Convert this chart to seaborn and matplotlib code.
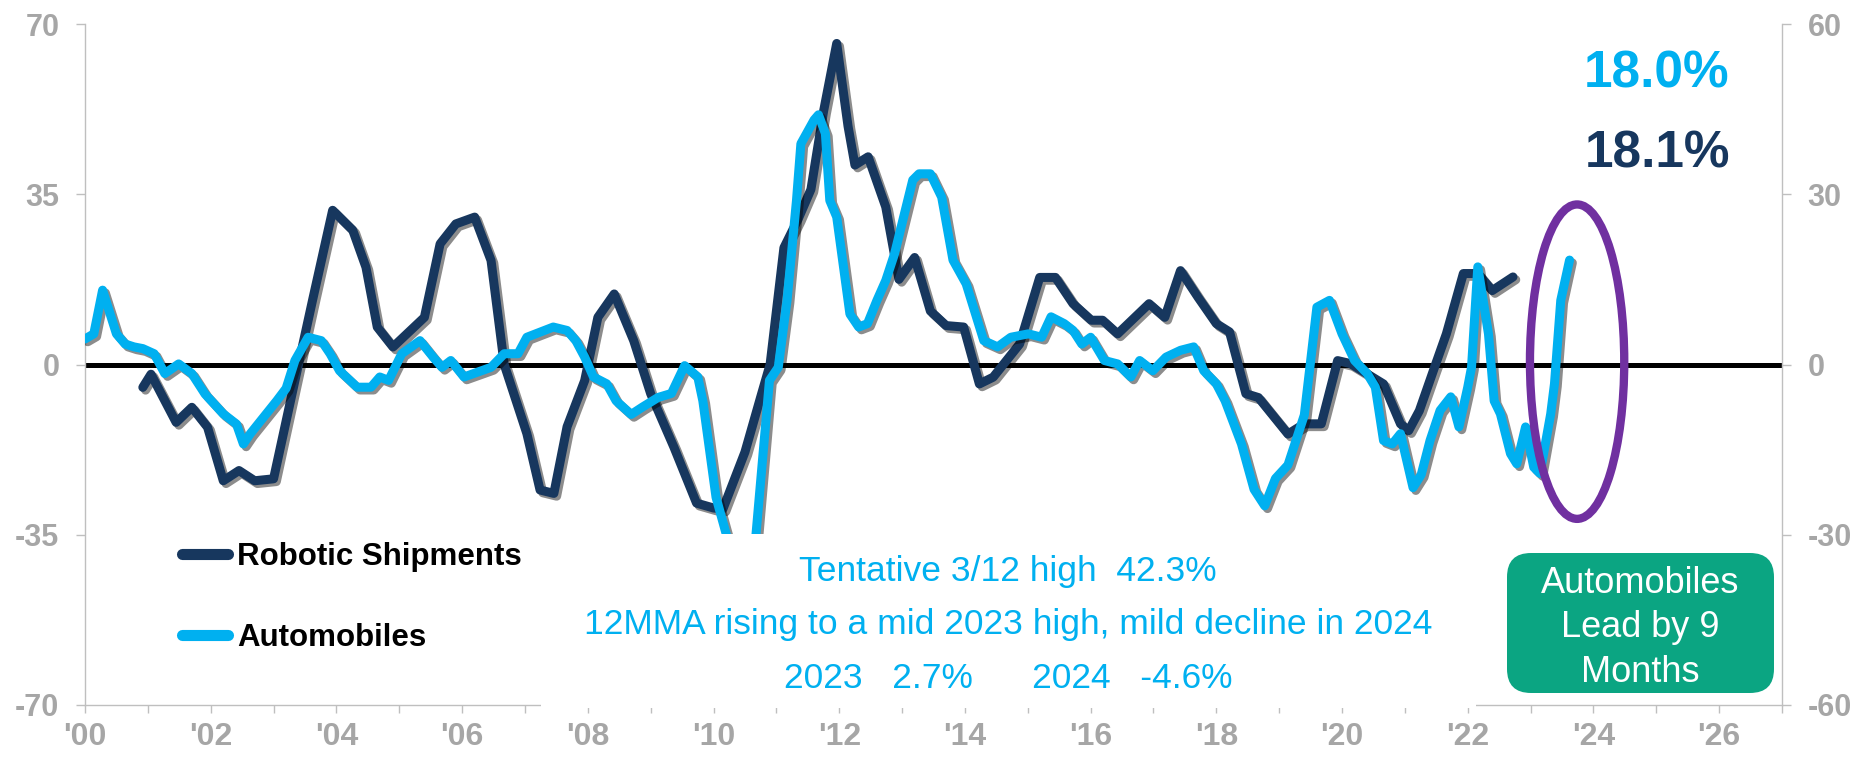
import matplotlib
matplotlib.use("Agg")
import matplotlib.pyplot as plt
import matplotlib.patheffects as pe
from matplotlib.patches import Ellipse, Rectangle, FancyBboxPatch
from matplotlib.lines import Line2D
from matplotlib.transforms import IdentityTransform
import seaborn as sns

# Robotic Shipments (left axis)
robot_x = [2000.92, 2001.05, 2001.45, 2001.7, 2001.95, 2002.2, 2002.45, 2002.7, 2003.0, 2003.34,
           2003.62, 2003.94, 2004.26, 2004.47, 2004.65, 2004.9, 2005.4, 2005.65, 2005.9, 2006.2,
           2006.46, 2006.67, 2007.03, 2007.24, 2007.46, 2007.67, 2007.95, 2008.16, 2008.42, 2008.73,
           2009.0, 2009.37, 2009.73, 2010.0, 2010.15, 2010.5, 2010.75, 2010.9, 2011.12, 2011.35,
           2011.55, 2011.75, 2011.96, 2012.14, 2012.25, 2012.46, 2012.74, 2012.95, 2013.2, 2013.45,
           2013.7, 2013.98, 2014.23, 2014.45, 2014.87, 2015.19, 2015.44, 2015.72, 2016.01, 2016.19,
           2016.43, 2016.93, 2017.18, 2017.43, 2017.71, 2018.0, 2018.21, 2018.47, 2018.67, 2019.14,
           2019.4, 2019.67, 2019.93, 2020.13, 2020.66, 2020.93, 2021.06, 2021.23, 2021.46, 2021.66,
           2021.93, 2022.16, 2022.39, 2022.72]
robot_y = [-4.7, -2.0, -11.9, -8.8, -12.9, -23.9, -21.8, -23.9, -23.5, -3.3,
           13.2, 31.7, 27.6, 20.0, 7.7, 3.6, 9.7, 24.8, 28.9, 30.3,
           21.4, 0.0, -14.2, -25.8, -26.5, -12.8, -3.3, 9.7, 14.5, 4.9,
           -6.0, -17.0, -28.5, -29.5, -29.7, -18.0, -6.7, 0.0, 24.0, 30.0,
           36.0, 52.0, 66.0, 49.0, 41.0, 42.7, 32.4, 17.5, 22.0, 11.0,
           8.0, 7.7, -4.0, -2.6, 4.2, 17.9, 17.9, 12.5, 9.1, 9.1,
           6.3, 12.5, 9.7, 19.3, 13.8, 8.4, 6.7, -6.0, -6.8, -14.3,
           -12.2, -12.2, 0.8, 0.2, -4.0, -12.2, -13.6, -9.5, -1.0, 6.3,
           18.7, 18.7, 15.2, 18.0]

# Automobiles (right axis)
auto_x = [2000.0, 2000.14, 2000.28, 2000.5, 2000.64, 2000.78, 2000.92, 2001.1, 2001.27, 2001.49,
          2001.7, 2001.91, 2002.2, 2002.41, 2002.52, 2002.63, 2002.84, 2003.05, 2003.2, 2003.34,
          2003.55, 2003.76, 2003.9, 2004.05, 2004.33, 2004.55, 2004.69, 2004.83, 2005.04, 2005.33,
          2005.54, 2005.68, 2005.82, 2006.03, 2006.31, 2006.46, 2006.67, 2006.89, 2007.03, 2007.17,
          2007.45, 2007.67, 2007.81, 2007.95, 2008.09, 2008.3, 2008.45, 2008.69, 2008.87, 2009.12,
          2009.33, 2009.54, 2009.75, 2009.83, 2010.04, 2010.28, 2010.45, 2010.62, 2010.89, 2011.03,
          2011.17, 2011.32, 2011.39, 2011.6, 2011.67, 2011.78, 2011.85, 2011.96, 2012.17, 2012.31,
          2012.45, 2012.6, 2012.74, 2012.88, 2013.17, 2013.27, 2013.45, 2013.63, 2013.81, 2014.02,
          2014.3, 2014.52, 2014.73, 2015.01, 2015.22, 2015.37, 2015.58, 2015.72, 2015.86, 2016.0,
          2016.22, 2016.43, 2016.64, 2016.78, 2016.99, 2017.2, 2017.43, 2017.64, 2017.8, 2018.0,
          2018.14, 2018.4, 2018.6, 2018.77, 2018.94, 2019.14, 2019.4, 2019.6, 2019.8, 2020.0,
          2020.2, 2020.4, 2020.53, 2020.66, 2020.8, 2020.93, 2021.13, 2021.26, 2021.4, 2021.56,
          2021.73, 2021.86, 2022.0, 2022.06, 2022.16, 2022.33, 2022.42, 2022.52, 2022.68, 2022.78,
          2022.92, 2023.05, 2023.15, 2023.32, 2023.38, 2023.48, 2023.62]
auto_y = [4.5, 5.4, 13.1, 5.4, 3.6, 3.1, 2.8, 1.9, -1.6, 0.1,
          -1.6, -5.2, -8.7, -10.5, -14.0, -12.2, -9.3, -6.4, -4.2, 0.7,
          4.8, 4.2, 1.9, -1.1, -4.0, -4.0, -2.2, -2.8, 1.9, 4.2,
          1.3, -0.5, 0.7, -2.2, -1.1, -0.5, 1.9, 1.9, 4.8, 5.4,
          6.6, 6.0, 4.2, 1.3, -2.2, -3.4, -6.4, -8.8, -7.5, -5.8,
          -5.1, -0.2, -2.2, -6.4, -23.4, -33.0, -40.0, -37.0, -2.8, -0.5,
          11.3, 28.9, 38.9, 43.1, 44.0, 40.7, 28.9, 26.0, 8.9, 6.6,
          7.2, 11.3, 14.8, 19.5, 32.5, 33.6, 33.6, 29.5, 18.4, 14.2,
          4.2, 3.1, 4.8, 5.4, 4.8, 8.4, 7.2, 6.0, 3.6, 4.8,
          0.7, 0.1, -2.2, 0.7, -1.1, 1.3, 2.5, 3.1, -1.1, -3.4,
          -6.4, -14.0, -22.0, -24.9, -20.1, -17.7, -8.9, 10.1, 11.3, 5.4,
          0.7, -1.6, -4.0, -13.4, -14.0, -12.2, -21.7, -19.4, -13.4, -8.1,
          -5.7, -11.0, -4.0, -0.5, 17.2, 5.4, -6.4, -8.7, -15.7, -17.5,
          -11.0, -18.1, -19.2, -8.7, -3.4, 11.3, 18.4]

year_ticks = list(range(2000, 2027, 2))
year_labels = ["'%02d" % (y % 100) for y in year_ticks]
left_ticks = [-70, -35, 0, 35, 70]
left_labels = ["-70", "-35", "0", "35", "70"]
right_ticks = [-60, -30, 0, 30, 60]
right_labels = ["-60", "-30", "0", "30", "60"]

NAVY = "#17375E"
LIGHT = "#00B0F0"
PURPLE = "#7030A0"
GREEN = "#0BA582"
GRAY = "#A6A6A6"
SPINE = "#BFBFBF"

sns.set_style("white")
plt.rcParams["font.family"] = ["Liberation Sans", "DejaVu Sans"]

W, H = 1855, 758
fig = plt.figure(figsize=(W / 100, H / 100), dpi=100)
ax = fig.add_axes([85 / W, 1 - 705 / H, (1782 - 85) / W, (705 - 24) / H])
ax2 = ax.twinx()

shadow = [pe.SimpleLineShadow(offset=(2, -2), shadow_color="black", alpha=0.45), pe.Normal()]

ax.axhline(0, color="black", lw=3.6, zorder=1)
sns.lineplot(x=robot_x, y=robot_y, ax=ax, color=NAVY, linewidth=6.5, estimator=None,
             sort=False, path_effects=shadow, solid_capstyle="round", solid_joinstyle="round")
sns.lineplot(x=auto_x, y=auto_y, ax=ax2, color=LIGHT, linewidth=6.5, estimator=None,
             sort=False, path_effects=shadow, solid_capstyle="round", solid_joinstyle="round")

ax.set_xlim(2000, 2027)
ax.set_ylim(-70, 70)
ax2.set_ylim(-60, 60)
ax.set_xlabel("")
ax.set_ylabel("")
ax2.set_ylabel("")

ax.set_xticks(year_ticks)
ax.set_xticklabels(year_labels, fontweight="bold", fontsize=23)
ax.set_xticks(range(2001, 2028, 2), minor=True)
ax.set_yticks(left_ticks)
ax.set_yticklabels(left_labels, fontweight="bold", fontsize=22)
ax2.set_yticks(right_ticks)
ax2.set_yticklabels(right_labels, fontweight="bold", fontsize=22)

ax.tick_params(axis="x", which="both", bottom=True, direction="out", length=6, width=1,
               color=SPINE, labelcolor=GRAY, pad=6)
ax.tick_params(axis="y", left=True, direction="out", length=6.5, width=1,
               color=SPINE, labelcolor=GRAY, pad=12)
ax2.tick_params(axis="y", right=True, direction="out", length=6.5, width=1,
                color=SPINE, labelcolor=GRAY, pad=12)

for a in (ax, ax2):
    a.spines["top"].set_visible(False)
    for s in a.spines.values():
        s.set_color(SPINE)
        s.set_linewidth(1)
ax.spines["right"].set_visible(False)
ax2.spines["left"].set_visible(False)
ax2.spines["bottom"].set_visible(False)

# purple ring around the latest readings
ax2.add_patch(Ellipse((2023.74, 0.5), 1.5, 55.4, fill=False, edgecolor=PURPLE, lw=6, zorder=5))

# white text box that hides the lower middle of the plot
fig.add_artist(Rectangle((541 / W, 1 - 708 / H), (1476 - 541) / W, (708 - 534) / H,
                         transform=fig.transFigure, facecolor="white", edgecolor="none", zorder=5))

notes = ["Tentative 3/12 high  42.3%",
         "12MMA rising to a mid 2023 high, mild decline in 2024",
         "2023   2.7%      2024   -4.6%"]
for txt, base in zip(notes, [581, 634, 688]):
    fig.text(1008 / W, 1 - base / H, txt, ha="center", va="baseline",
             color=LIGHT, fontsize=25.5, zorder=6)

fig.text(1657 / W, 1 - 88 / H, "18.0%", ha="center", va="baseline", color=LIGHT,
         fontsize=37, fontweight="bold")
fig.text(1657 / W, 1 - 168 / H, "18.1%", ha="center", va="baseline", color=NAVY,
         fontsize=37, fontweight="bold")

# legend
for label, color, yc in [("Robotic Shipments", NAVY, 554), ("Automobiles", LIGHT, 635)]:
    fig.add_artist(Line2D([182 / W, 228 / W], [1 - yc / H, 1 - yc / H], transform=fig.transFigure,
                          color=color, lw=8, solid_capstyle="round"))
    fig.text(237 / W, 1 - (yc + 11) / H, label, ha="left", va="baseline", color="black",
             fontsize=22.5, fontweight="bold")

# green call-out box
fig.add_artist(FancyBboxPatch((1507, H - 693), 1774 - 1507, 693 - 553,
                              boxstyle="round,pad=0,rounding_size=24", transform=IdentityTransform(),
                              facecolor=GREEN, edgecolor="none", zorder=5))
for txt, base in zip(["Automobiles", "Lead by 9", "Months"], [593, 637, 682]):
    fig.text(1640 / W, 1 - base / H, txt, ha="center", va="baseline", color="white",
             fontsize=26, zorder=6)

fig.savefig("out.png", dpi=100)
